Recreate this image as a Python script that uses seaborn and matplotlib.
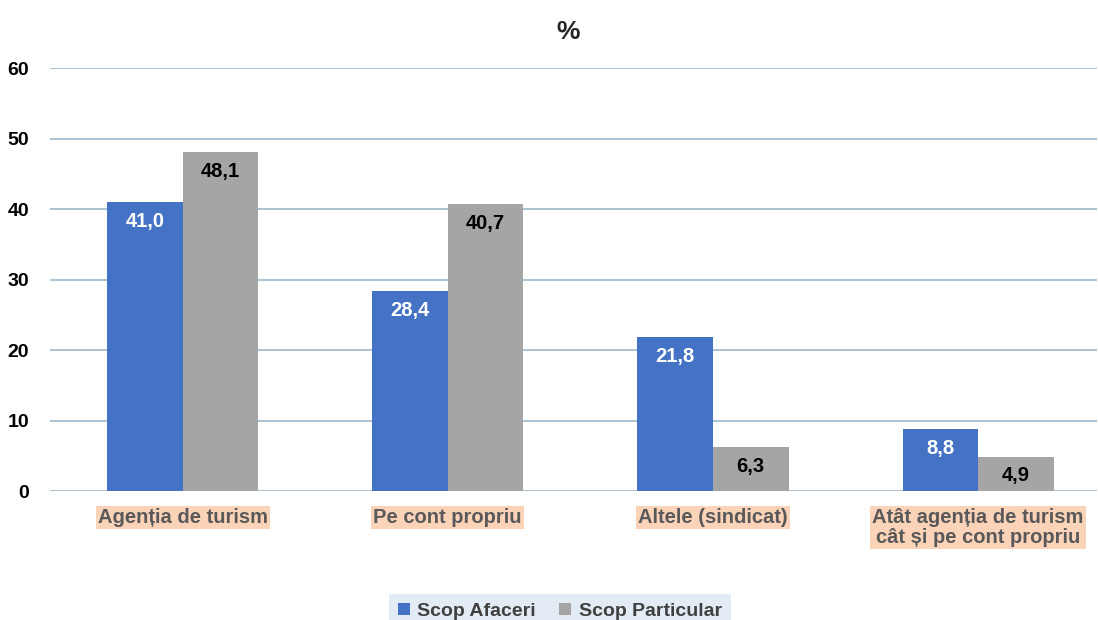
import pandas as pd
import seaborn as sns
import matplotlib.pyplot as plt
from matplotlib.patches import Patch

# data
categories = ["Agenția de turism", "Pe cont propriu", "Altele (sindicat)",
              "Atât agenția de turism\ncât și pe cont propriu"]
series = ["Scop Afaceri", "Scop Particular"]
afaceri = [41.0, 28.4, 21.8, 8.8]
particular = [48.1, 40.7, 6.3, 4.9]
y_ticks = [0, 10, 20, 30, 40, 50, 60]

colors = {"Scop Afaceri": "#4472C4", "Scop Particular": "#A5A5A5"}
label_colors = ["white", "black"]

df = pd.DataFrame({
    "categorie": categories * 2,
    "serie": [series[0]] * 4 + [series[1]] * 4,
    "valoare": afaceri + particular,
})

sns.set_style("white")
plt.rcParams["font.family"] = ["Liberation Sans", "DejaVu Sans"]
plt.rcParams["font.weight"] = "bold"

fig = plt.figure(figsize=(10.98, 6.2), dpi=100)
ax = fig.add_axes([0.0455, 0.208, 0.954, 0.682])

sns.barplot(data=df, x="categorie", y="valoare", hue="serie",
            palette=colors, width=0.57, ax=ax, legend=False, saturation=1,
            linewidth=0)

# value labels inside the bar tops
for cont, col in zip(ax.containers, label_colors):
    for bar in cont:
        h = bar.get_height()
        ax.annotate(f"{h:.1f}".replace(".", ","),
                    (bar.get_x() + bar.get_width() / 2, h),
                    xytext=(0, -14), textcoords="offset points",
                    ha="center", va="center", color=col,
                    fontsize=14.5, fontweight="bold")

ax.set_ylim(0, 60)
ax.set_xlim(-0.5, 3.45)
ax.set_yticks(y_ticks)
ax.set_yticklabels([str(t) for t in y_ticks], fontsize=14, fontweight="bold", color="black")
ax.tick_params(axis="y", length=0, pad=15)
ax.tick_params(axis="x", length=0, pad=12)
for lbl in ax.get_xticklabels():
    lbl.set_fontsize(14.5)
    lbl.set_fontweight("bold")
    lbl.set_color("#595959")
    lbl.set_linespacing(1.1)
    lbl.set_bbox(dict(facecolor="#fbd3b8", edgecolor="none", pad=1.5))

ax.yaxis.grid(True, color="#9db8ca", linewidth=1.2)
ax.set_axisbelow(True)
for s in ax.spines.values():
    s.set_visible(False)
ax.set_xlabel("")
ax.set_ylabel("")

fig.text(0.517, 0.948, "%", ha="center", va="center", fontsize=19, fontweight="bold")

handles = [Patch(facecolor=colors[s], edgecolor="none", label=s) for s in series]
leg = fig.legend(handles=handles, loc="lower center", bbox_to_anchor=(0.51, -0.03),
                 ncol=2, frameon=True, fancybox=False, handlelength=0.6, handleheight=0.6,
                 handletextpad=0.4, columnspacing=1.2, borderpad=0.45,
                 prop={"size": 14, "weight": "bold"})
leg.get_frame().set_facecolor("#dce6f2")
leg.get_frame().set_edgecolor("none")
for t in leg.get_texts():
    t.set_color("#404040")

fig.savefig("out.png", dpi=100, facecolor="white")
